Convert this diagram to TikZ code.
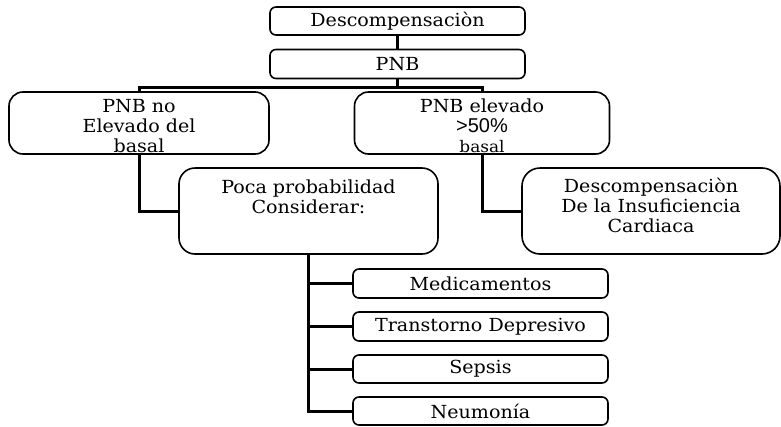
\documentclass[tikz,border=0pt]{standalone}
\usepackage{fontspec}
\setmainfont{DejaVu Serif}[FakeStretch=1.06]
\newfontfamily\sansf{Liberation Sans}
\begin{document}
\begin{tikzpicture}[x=1pt,y=-1pt,
  box/.style={draw, line width=1.6pt, rounded corners=#1, inner sep=0pt},
  box/.default=6pt,
  txt/.style={inner sep=0pt, align=center, font=\fontsize{18}{20}\selectfont},
  conn/.style={line width=3pt}]
\useasboundingbox (0,0) rectangle (781,426);
% boxes
\node[box, minimum width=255pt, minimum height=28pt] (desc) at (397.5,21) {};
\node[box, minimum width=255pt, minimum height=29pt] (pnb) at (397.5,64) {};
\node[box=14pt, minimum width=260pt, minimum height=62pt] (left) at (139,123) {};
\node[box=14pt, minimum width=255pt, minimum height=62pt] (right) at (482,123) {};
\node[box=16pt, minimum width=259pt, minimum height=86pt] (poca) at (308.5,211) {};
\node[box=18pt, minimum width=258pt, minimum height=86pt] (dic) at (651,211) {};
\node[box, minimum width=255pt, minimum height=29pt] (med) at (480.5,283.5) {};
\node[box, minimum width=255pt, minimum height=29pt] (tra) at (480.5,326.5) {};
\node[box, minimum width=255pt, minimum height=28pt] (sep) at (480.5,369) {};
\node[box, minimum width=255pt, minimum height=28pt] (neu) at (480.5,411) {};
% texts
\node[txt] (descT) at (desc.center) {Descompensaciòn};
\node[txt] (pnbT) at (pnb.center) {PNB};
\node[txt] (leftT) at (139,126) {PNB no\\Elevado del\\basal};
\node[txt] (rightT) at (482,126) {PNB elevado\\{\sansf\fontsize{20}{20}\selectfont >50\%}\\{\fontsize{16}{16}\selectfont basal}};
\node[txt] (pocaT) at (308.5,197) {Poca probabilidad\\Considerar:};
\node[txt] (dicT) at (651,205) {Descompensaciòn\\De la Insuficiencia\\Cardiaca};
\node[txt] (medT) at (med.center) {Medicamentos};
\node[txt] (traT) at (tra.center) {Transtorno Depresivo};
\node[txt] (sepT) at (sep.center) {Sepsis};
\node[txt] (neuT) at (neu.center) {Neumonía};
% connectors
\coordinate (bar) at (0,87);
\draw[conn] (desc.south) -- (pnb.north);
\draw[conn] (pnb.south) -- (pnb.south |- bar);
\draw[conn] (left.north) -- (left.north |- bar) -- (right.north |- bar) -- (right.north);
\draw[conn] (left.south) |- (poca.west);
\draw[conn] (right.south) |- (dic.west);
\draw[conn] (poca.south) |- (neu.west);
\draw[conn] (poca.south |- med.west) -- (med.west);
\draw[conn] (poca.south |- tra.west) -- (tra.west);
\draw[conn] (poca.south |- sep.west) -- (sep.west);
\end{tikzpicture}
\end{document}
